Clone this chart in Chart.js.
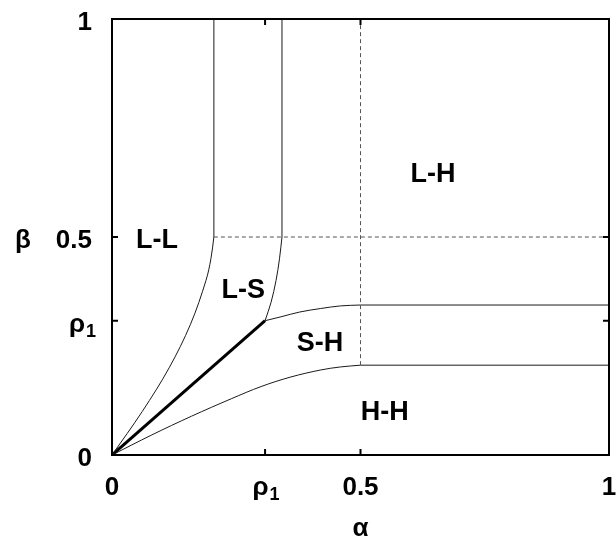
<!DOCTYPE html>
<html>
<head>
<meta charset="utf-8">
<script src="https://cdn.jsdelivr.net/npm/chart.js@4/dist/chart.umd.min.js"></script>
<style>
  html, body { margin: 0; padding: 0; background: #fff; }
  #wrap { width: 616px; height: 539px; }
</style>
</head>
<body>
<div id="wrap"><canvas id="c" width="616" height="539"></canvas></div>
<script>
// Phase diagram in the (alpha, beta) plane.
const rho1 = 0.308;

// Tick positions and labels (main text + subscript)
const tickValues = [0, rho1, 0.5, 1];
const tickText = ['0', 'ρ', '0.5', '1'];
const tickSub = ['', '1', '', ''];

// L-L / L-S boundary
const llAlpha = [0, 0.061, 0.115, 0.158, 0.189, 0.199, 0.205];
const llBeta  = [0, 0.100, 0.200, 0.300, 0.400, 0.450, 0.500];
const llTopAlpha = [0.205, 0.205];
const llTopBeta  = [0.500, 1.000];

// L-S / L-H boundary
const lsAlpha = [rho1, 0.320, 0.330, 0.337, 0.342];
const lsBeta  = [rho1, 0.350, 0.400, 0.450, 0.500];
const lsTopAlpha = [0.342, 0.342];
const lsTopBeta  = [0.500, 1.000];

// thick segment from the origin to (rho1, rho1)
const thickAlpha = [0, rho1];
const thickBeta  = [0, rho1];

// upper S-H boundary
const shAlpha = [rho1, 0.340, 0.378, 0.420, 0.460, 0.500];
const shBeta  = [rho1, 0.317, 0.328, 0.336, 0.342, 0.344];
const shFlatAlpha = [0.5, 1];
const shFlatBeta  = [0.344, 0.344];

// lower S-H / H-H boundary
const hhAlpha = [0, 0.080, 0.160, 0.240, 0.300, 0.360, 0.420, 0.460, 0.500];
const hhBeta  = [0, 0.046, 0.089, 0.129, 0.157, 0.179, 0.195, 0.202, 0.206];
const hhFlatAlpha = [0.5, 1];
const hhFlatBeta  = [0.206, 0.206];

// dashed guides
const dashHAlpha = [0.205, 1];
const dashHBeta  = [0.5, 0.5];
const dashVAlpha = [0.5, 0.5];
const dashVBeta  = [0.206, 1];

// phase labels
const regionNames = ['L-L', 'L-S', 'S-H', 'L-H', 'H-H'];
const regionAlpha = [0.0905, 0.264, 0.4185, 0.646, 0.549];
const regionBeta  = [0.497, 0.383, 0.2615, 0.649, 0.103];

const pts = (xs, ys) => xs.map((x, i) => ({ x: x, y: ys[i] }));

function line(xs, ys, opts) {
  return Object.assign({
    data: pts(xs, ys),
    showLine: true,
    pointRadius: 0,
    borderColor: '#1a1a1a',
    borderWidth: 1,
    tension: 0,
    fill: false
  }, opts || {});
}

const FONT = '"Liberation Sans", Arial, sans-serif';

const framePlugin = {
  id: 'frame',
  afterDatasetsDraw(chart) {
    const ctx = chart.ctx;
    const a = chart.chartArea;
    const xs = chart.scales.x, ys = chart.scales.y;
    ctx.save();

    // box
    ctx.strokeStyle = '#000';
    ctx.lineWidth = 2;
    ctx.strokeRect(a.left, a.top, a.right - a.left, a.bottom - a.top);

    // inward ticks on all four sides
    const tl = 6;
    ctx.beginPath();
    tickValues.forEach(v => {
      const px = xs.getPixelForValue(v);
      const py = ys.getPixelForValue(v);
      ctx.moveTo(px, a.bottom); ctx.lineTo(px, a.bottom - tl);
      ctx.moveTo(px, a.top); ctx.lineTo(px, a.top + tl);
      ctx.moveTo(a.left, py); ctx.lineTo(a.left + tl, py);
      ctx.moveTo(a.right, py); ctx.lineTo(a.right - tl, py);
    });
    ctx.stroke();

    ctx.fillStyle = '#000';
    const big = 'bold 26px ' + FONT;
    const small = 'bold 18px ' + FONT;
    ctx.textBaseline = 'alphabetic';

    function labelWidth(i) {
      ctx.font = big;
      let w = ctx.measureText(tickText[i]).width;
      if (tickSub[i]) { ctx.font = small; w += 1 + ctx.measureText(tickSub[i]).width; }
      return w;
    }
    function drawLabel(i, left, base) {
      ctx.textAlign = 'left';
      ctx.font = big;
      ctx.fillText(tickText[i], left, base);
      if (tickSub[i]) {
        const w = ctx.measureText(tickText[i]).width;
        ctx.font = small;
        ctx.fillText(tickSub[i], left + w + 1, base + 5);
      }
    }

    // x tick labels
    tickValues.forEach((v, i) => {
      const px = xs.getPixelForValue(v);
      const w = labelWidth(i);
      drawLabel(i, px - w / 2 + (tickSub[i] ? 1 : 0), a.bottom + 40);
    });
    // y tick labels
    tickValues.forEach((v, i) => {
      const py = ys.getPixelForValue(v);
      const w = labelWidth(i);
      const right = tickSub[i] ? a.left - 16 : a.left - 20;
      drawLabel(i, right - w, py + 11);
    });

    // axis titles
    ctx.font = big;
    ctx.textAlign = 'center';
    ctx.fillText('α', xs.getPixelForValue(0.5), a.bottom + 81);
    ctx.textAlign = 'left';
    ctx.fillText('β', 15, ys.getPixelForValue(0.5) + 11);

    // phase labels
    ctx.font = 'bold 27px ' + FONT;
    ctx.textAlign = 'center';
    regionNames.forEach((n, i) => {
      ctx.fillText(n, xs.getPixelForValue(regionAlpha[i]), ys.getPixelForValue(regionBeta[i]) + 10);
    });

    ctx.restore();
  }
};

new Chart(document.getElementById('c'), {
  type: 'scatter',
  data: {
    datasets: [
      line(dashHAlpha, dashHBeta, { borderColor: '#555', borderDash: [4, 3] }),
      line(dashVAlpha, dashVBeta, { borderColor: '#555', borderDash: [4, 3] }),
      line(llAlpha, llBeta, { tension: 0.35 }),
      line(llTopAlpha, llTopBeta),
      line(lsAlpha, lsBeta, { tension: 0.35 }),
      line(lsTopAlpha, lsTopBeta),
      line(shAlpha, shBeta, { tension: 0.35 }),
      line(shFlatAlpha, shFlatBeta),
      line(hhAlpha, hhBeta, { tension: 0.35 }),
      line(hhFlatAlpha, hhFlatBeta),
      line(thickAlpha, thickBeta, { borderColor: '#000', borderWidth: 3 })
    ]
  },
  options: {
    responsive: false,
    animation: false,
    devicePixelRatio: 1,
    layout: { padding: { left: 112, right: 7, top: 19, bottom: 84 } },
    scales: {
      x: { type: 'linear', min: 0, max: 1, display: false },
      y: { type: 'linear', min: 0, max: 1, display: false }
    },
    plugins: {
      legend: { display: false },
      tooltip: { enabled: false }
    },
    events: []
  },
  plugins: [framePlugin]
});
</script>
</body>
</html>
